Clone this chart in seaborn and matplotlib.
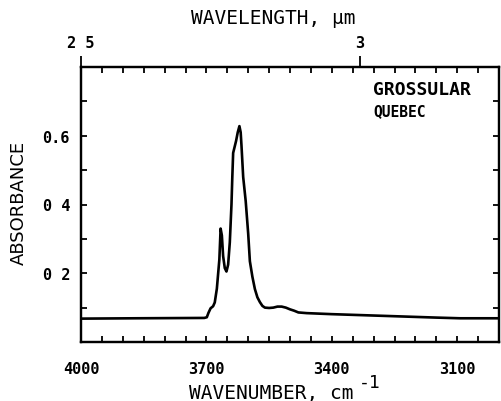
import matplotlib
matplotlib.use("Agg")
import matplotlib.pyplot as plt
import seaborn as sns
import pandas as pd
from matplotlib.ticker import FixedLocator, MultipleLocator

# ---- data ----
wavenumber = [4000, 3870, 3705, 3699, 3695, 3690, 3684, 3680, 3675, 3669, 3666,
              3663, 3660, 3656, 3652, 3648, 3644, 3640, 3638, 3636, 3632, 3629,
              3625, 3621, 3618, 3616, 3612, 3606, 3600, 3596, 3590, 3584, 3578,
              3572, 3566, 3560, 3550, 3540, 3530, 3520, 3510, 3500, 3490, 3480,
              3460, 3400, 3300, 3250, 3150, 3093, 3000]
absorbance = [0.068, 0.069, 0.070, 0.072, 0.085, 0.098, 0.104, 0.115, 0.155, 0.240, 0.330,
              0.310, 0.250, 0.215, 0.205, 0.225, 0.290, 0.400, 0.480, 0.550, 0.570, 0.585,
              0.610, 0.628, 0.610, 0.570, 0.480, 0.410, 0.315, 0.235, 0.190, 0.154, 0.130,
              0.116, 0.105, 0.100, 0.099, 0.100, 0.103, 0.103, 0.100, 0.095, 0.091, 0.086,
              0.084, 0.081, 0.077, 0.075, 0.071, 0.069, 0.069]

bottom_ticks = [4000, 3700, 3400, 3100]
bottom_labels = ["4000", "3700", "3400", "3100"]
y_ticks = [0.2, 0.4, 0.6]
y_labels = ["0 2", "0 4", "0.6"]
top_ticks = [4000, 10000 / 3.0]   # 2.5 um and 3 um
top_labels = ["2 5", "3"]

sns.set_style("white")
plt.rcParams["font.family"] = ["DejaVu Sans Mono", "DejaVu Sans"]
for k in ["text.color", "axes.labelcolor", "xtick.color", "ytick.color", "axes.edgecolor"]:
    plt.rcParams[k] = "black"

W, H = 501, 402
fig = plt.figure(figsize=(W / 100, H / 100), dpi=100)
L, R, T, B = 81, 499, 68, 343
ax = fig.add_axes([L / W, 1 - B / H, (R - L) / W, (B - T) / H])

df = pd.DataFrame({"wn": wavenumber, "A": absorbance})
sns.lineplot(data=df, x="wn", y="A", ax=ax, color="black", lw=1.9, sort=False,
             estimator=None)

ax.set_xlim(4000, 3000)
ax.set_ylim(0, 0.8)

for s in ax.spines.values():
    s.set_visible(True)
    s.set_linewidth(1.6)
    s.set_color("black")

ax.xaxis.set_major_locator(FixedLocator(bottom_ticks))
ax.set_xticklabels(bottom_labels, fontsize=11, fontweight="bold")
ax.xaxis.set_minor_locator(MultipleLocator(50))
ax.yaxis.set_major_locator(FixedLocator(y_ticks))
ax.set_yticklabels(y_labels, fontsize=11, fontweight="bold")
ax.yaxis.set_minor_locator(FixedLocator([0.1, 0.3, 0.5, 0.7]))

ax.tick_params(axis="x", which="both", direction="in", length=4, width=1.3,
               bottom=True, top=False, pad=13.5, colors="black")
ax.tick_params(axis="y", which="both", direction="in", length=4, width=1.3,
               left=True, right=True, pad=8, colors="black")

# top wavelength axis
ax2 = ax.twiny()
ax2.set_xlim(4000, 3000)
ax2.xaxis.set_major_locator(FixedLocator(top_ticks))
ax2.set_xticklabels(top_labels, fontsize=11, fontweight="bold")
ax2.xaxis.set_minor_locator(MultipleLocator(50))
ax2.tick_params(axis="x", which="major", direction="out", length=8, width=1.3, pad=4,
                colors="black")
ax2.tick_params(axis="x", which="minor", direction="in", length=4, width=1.3,
                colors="black")
for s in ax2.spines.values():
    s.set_linewidth(1.6)
    s.set_color("black")

ax.set_xlabel("WAVENUMBER, cm", fontsize=14, color="black")
ax.xaxis.set_label_coords((271.5 - L) / (R - L), (B - 394) / (B - T))
ax.xaxis.label.set_va("center")
fig.text(359 / W, 1 - 383 / H, "-1", fontsize=13, ha="left", va="center", color="black")

ax.set_ylabel("ABSORBANCE", fontsize=13, family="DejaVu Sans", color="black")
ax.yaxis.set_label_coords((19 - L) / (R - L), (B - 203) / (B - T))
ax.yaxis.label.set_va("center")

ax2.set_xlabel("WAVELENGTH, µm", fontsize=14, color="black")
ax2.xaxis.set_label_coords((273 - L) / (R - L), (B - 19) / (B - T))
ax2.xaxis.label.set_va("center")

fig.text(373 / W, 1 - 90 / H, "GROSSULAR", fontsize=13, fontweight="bold",
         ha="left", va="center", color="black")
fig.text(373 / W, 1 - 112 / H, "QUEBEC", fontsize=10.5, fontweight="bold",
         ha="left", va="center", color="black")

fig.savefig("out.png", dpi=100)
